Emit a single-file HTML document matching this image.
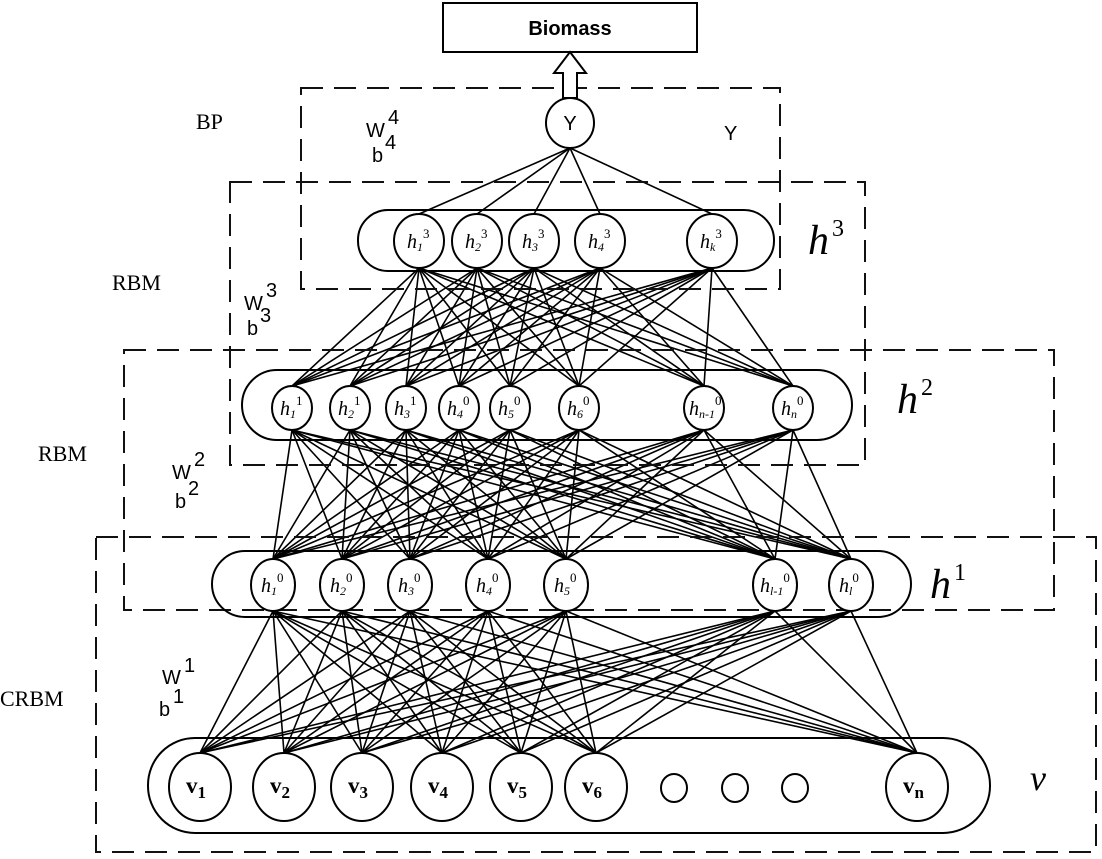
<!DOCTYPE html>
<html><head><meta charset="utf-8"><style>
html,body{margin:0;padding:0;background:#fff;}
svg{display:block;}
.dash{fill:none;stroke:#111;stroke-width:2;stroke-dasharray:22 11;}
.n{fill:#fff;stroke:#000;stroke-width:2;}
.cap{fill:none;stroke:#000;stroke-width:2;}
.l{stroke:#000;stroke-width:1.6;}
.hl{font-family:"Liberation Serif",serif;font-style:italic;font-size:20px;}
.ser{font-family:"Liberation Serif",serif;font-size:22px;}
.san{font-family:"Liberation Sans",sans-serif;font-size:20px;}
</style></head><body>
<svg id="s" width="1102" height="859" viewBox="0 0 1102 859" xmlns="http://www.w3.org/2000/svg">
<g id="lines"></g>
<rect class="dash" x="301" y="88" width="479" height="201"/>
<rect class="dash" x="230" y="182" width="635" height="283"/>
<rect class="dash" x="124" y="350" width="930" height="260"/>
<rect class="dash" x="96" y="537" width="1000" height="315"/>
<rect x="443" y="3" width="254" height="49" fill="#fff" stroke="#000" stroke-width="2"/>
<text x="570" y="35" text-anchor="middle" font-family="Liberation Sans,sans-serif" font-weight="bold" font-size="20">Biomass</text>
<polygon points="570,52 586,73 577,73 577,98 563,98 563,73 554,73" fill="#fff" stroke="#000" stroke-width="2"/>
<rect class="cap" x="358" y="210" width="416" height="61" rx="30"/>
<rect class="cap" x="242" y="370" width="610" height="70" rx="35"/>
<rect class="cap" x="212" y="551" width="699" height="66" rx="33"/>
<rect class="cap" x="148" y="738" width="842" height="95" rx="47"/>
<g id="nodes"></g>
<text class="ser" x="196" y="129">BP</text>
<text class="san" x="366" y="137">W</text><text class="san" x="388" y="124" font-size="14">4</text>
<text class="san" x="372" y="162" font-size="19">b</text><text class="san" x="385" y="149" font-size="14">4</text>
<text class="san" x="724" y="140">Y</text>
<text class="ser" x="112" y="290">RBM</text>
<text class="san" x="244" y="310">W</text><text class="san" x="266" y="297" font-size="14">3</text>
<text class="san" x="247" y="335" font-size="19">b</text><text class="san" x="260" y="322" font-size="14">3</text>
<text class="ser" x="38" y="461">RBM</text>
<text class="san" x="172" y="479">W</text><text class="san" x="194" y="466" font-size="14">2</text>
<text class="san" x="175" y="508" font-size="19">b</text><text class="san" x="188" y="495" font-size="14">2</text>
<text class="ser" x="0" y="706">CRBM</text>
<text class="san" x="162" y="684">W</text><text class="san" x="184" y="672" font-size="12">1</text>
<text class="san" x="159" y="716" font-size="19">b</text><text class="san" x="173" y="703" font-size="14">1</text>
<text x="808" y="254" font-family="Liberation Serif,serif" font-style="italic" font-size="42">h</text><text x="832" y="236" font-family="Liberation Serif,serif" font-size="24">3</text>
<text x="897" y="413" font-family="Liberation Serif,serif" font-style="italic" font-size="42">h</text><text x="921" y="395" font-family="Liberation Serif,serif" font-size="24">2</text>
<text x="930" y="598" font-family="Liberation Serif,serif" font-style="italic" font-size="42">h</text><text x="954" y="580" font-family="Liberation Serif,serif" font-size="24">1</text>
<text x="1030" y="790" font-family="Liberation Serif,serif" font-style="italic" font-size="36">v</text>
</svg>
<script>
var NS="http://www.w3.org/2000/svg";
function el(t,a,p,txt){var e=document.createElementNS(NS,t);for(var k in a)e.setAttribute(k,a[k]);if(txt!==undefined)e.textContent=txt;p.appendChild(e);return e;}
var Y={x:[570],cy:123,rx:24,ry:25};
var H3={x:[419,477,534,600,712],cy:241,rx:25,ry:27,lab:[["1","3"],["2","3"],["3","3"],["4","3"],["k","3"]]};
var H2={x:[292,350,406,459,510,579,704,793],cy:408,rx:20,ry:22,lab:[["1","1"],["2","1"],["3","1"],["4","0"],["5","0"],["6","0"],["n-1","0"],["n","0"]]};
var H1={x:[273,342,410,488,566,775,851],cy:585,rx:22,ry:26,lab:[["1","0"],["2","0"],["3","0"],["4","0"],["5","0"],["l-1","0"],["l","0"]]};
var V={x:[200,284,362,442,521,596,917],cy:787,rx:31,ry:34,lab:["1","2","3","4","5","6","n"]};
var L=document.getElementById("lines"),N=document.getElementById("nodes");
function conn(up,lo){up.x.forEach(function(a){lo.x.forEach(function(b){el("line",{x1:a,y1:up.cy+up.ry,x2:b,y2:lo.cy-lo.ry,"class":"l"},L);});});}
conn(Y,H3);conn(H3,H2);conn(H2,H1);conn(H1,V);
el("ellipse",{cx:570,cy:123,rx:24,ry:25,"class":"n"},N);
el("text",{x:570,y:130,"text-anchor":"middle","font-family":"Liberation Sans,sans-serif","font-size":20},N,"Y");
[H3,H2,H1].forEach(function(Ly){Ly.x.forEach(function(x,i){
 el("ellipse",{cx:x,cy:Ly.cy,rx:Ly.rx,ry:Ly.ry,"class":"n"},N);
 var lb=Ly.lab[i];var long=lb[0].length>1;
 var t=el("text",{x:x-(long?15:12),y:Ly.cy+7,"class":"hl"},N);
 t.appendChild(document.createTextNode("h"));
 el("tspan",{"font-size":"12",dy:"3"},t,lb[0]);
 el("tspan",{"font-size":"13",dy:"-13","font-style":"normal"},t,lb[1]);
});});
V.x.forEach(function(x,i){
 el("ellipse",{cx:x,cy:V.cy,rx:V.rx,ry:V.ry,"class":"n"},N);
 var t=el("text",{x:x-14,y:V.cy+6,"font-family":"Liberation Serif,serif","font-weight":"bold","font-size":"23"},N,"v");
 el("tspan",{"font-size":"17",dy:"5"},t,V.lab[i]);
});
[674,735,795].forEach(function(x){el("ellipse",{cx:x,cy:788,rx:13,ry:14,"class":"n"},N);});
</script>
</body></html>
